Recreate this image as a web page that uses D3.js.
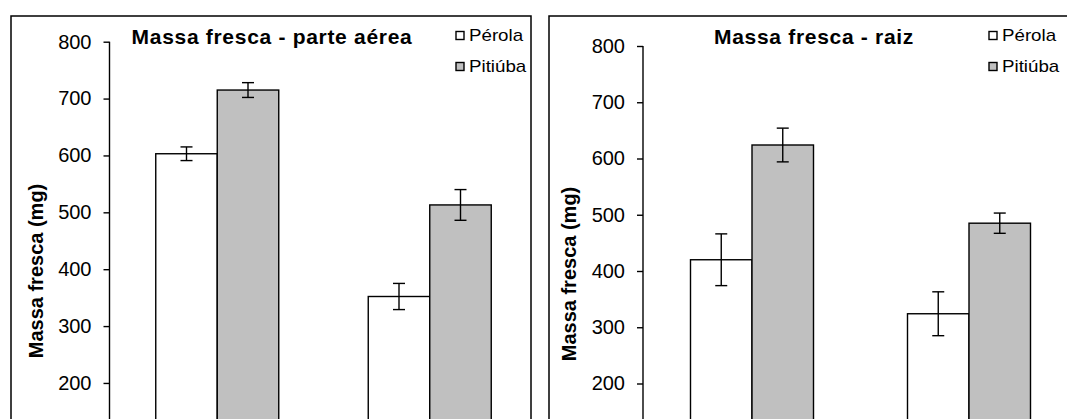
<!DOCTYPE html>
<html>
<head>
<meta charset="utf-8">
<script src="https://cdn.jsdelivr.net/npm/d3@7"></script>
<style>
  html, body { margin: 0; padding: 0; background: #fff; }
  svg { display: block; font-family: "Liberation Sans", Arial, sans-serif; }
</style>
</head>
<body>
<svg id="chart" width="1067" height="419"></svg>
<script>
// Treatment groups (one pair of bars each) and the two bean cultivars
const groups = ["1", "2"];
const cultivars = ["Pérola", "Pitiúba"];
const cultivarFill = ["#ffffff", "#c0c0c0"];
const yTicks = [200, 300, 400, 500, 600, 700, 800];

// Shoot fresh mass (mg): mean and standard error per group
const aereaPerola = [603, 352];
const aereaPerolaErr = [12, 23];
const aereaPitiuba = [715, 513];
const aereaPitiubaErr = [13, 27];

// Root fresh mass (mg)
const raizPerola = [420, 324];
const raizPerolaErr = [46, 39];
const raizPitiuba = [624, 485];
const raizPitiubaErr = [30, 18];

const svg = d3.select("#chart");
const FONT = "'Liberation Sans', Arial, sans-serif";

function panel(cfg) {
  const g = svg.append("g");

  // frame around the chart area (runs past the bottom edge)
  g.append("rect")
    .attr("x", cfg.frame[0]).attr("y", cfg.frame[1])
    .attr("width", cfg.frame[2]).attr("height", cfg.frame[3])
    .attr("fill", "none").attr("stroke", "#000").attr("stroke-width", 1.5);

  const y = d3.scaleLinear().domain([0, 800]).range(cfg.yRange);
  const x0 = d3.scaleBand().domain(groups).range(cfg.xRange);
  const x1 = d3.scaleBand().domain(cultivars).range([-cfg.barW, cfg.barW]);

  // y axis
  const axis = g.append("g")
    .attr("transform", `translate(${cfg.axisX},0)`)
    .call(d3.axisLeft(y).tickValues(yTicks).tickSize(6).tickPadding(12).tickSizeOuter(0));
  axis.select(".domain").attr("stroke", "#000").attr("stroke-width", 1.4)
    .attr("d", `M0,${y(800)}V${y(0)}`);
  axis.selectAll(".tick line").attr("stroke", "#000").attr("stroke-width", 1.4);
  axis.selectAll(".tick text")
    .attr("font-family", FONT).attr("font-size", 20).attr("fill", "#000");

  // axis title
  g.append("text")
    .attr("transform", `translate(${cfg.titleX},${cfg.titleY}) rotate(-90)`)
    .attr("text-anchor", "middle")
    .attr("font-family", FONT).attr("font-size", 20).attr("font-weight", "bold")
    .text("Massa fresca (mg)");

  // chart title
  g.append("text")
    .attr("x", cfg.headX).attr("y", 43.5)
    .attr("text-anchor", "middle")
    .attr("font-family", FONT).attr("font-size", 21).attr("font-weight", "bold")
    .attr("letter-spacing", 0.7)
    .text(cfg.head);

  // bars and error bars
  cfg.series.forEach((s, si) => {
    const name = cultivars[si];
    const sg = g.append("g");
    sg.selectAll("rect")
      .data(s.mean)
      .join("rect")
      .attr("x", (d, i) => x0(groups[i]) + x0.bandwidth() / 2 + x1(name))
      .attr("y", d => y(d))
      .attr("width", x1.bandwidth())
      .attr("height", d => y(0) - y(d))
      .attr("fill", cultivarFill[si])
      .attr("stroke", "#000").attr("stroke-width", 1.4);

    const cx = i => x0(groups[i]) + x0.bandwidth() / 2 + x1(name) + x1.bandwidth() / 2;
    const eg = sg.selectAll("g.err")
      .data(s.mean.map((m, i) => ({ m, e: s.err[i], i })))
      .join("g").attr("class", "err")
      .attr("stroke", "#000").attr("stroke-width", 1.4);
    eg.append("line")
      .attr("x1", d => cx(d.i)).attr("x2", d => cx(d.i))
      .attr("y1", d => y(d.m + d.e)).attr("y2", d => y(d.m - d.e));
    eg.append("line")
      .attr("x1", d => cx(d.i) - 6).attr("x2", d => cx(d.i) + 6)
      .attr("y1", d => y(d.m + d.e)).attr("y2", d => y(d.m + d.e));
    eg.append("line")
      .attr("x1", d => cx(d.i) - 6).attr("x2", d => cx(d.i) + 6)
      .attr("y1", d => y(d.m - d.e)).attr("y2", d => y(d.m - d.e));
  });

  // legend
  const lg = g.append("g").attr("transform", `translate(${cfg.legendX},0)`);
  cultivars.forEach((c, i) => {
    const cy = i === 0 ? 35.5 : 66.5;
    lg.append("rect")
      .attr("x", 0).attr("y", cy - 4).attr("width", 8).attr("height", 8)
      .attr("fill", cultivarFill[i]).attr("stroke", "#000").attr("stroke-width", 1.4);
    lg.append("text")
      .attr("x", 13).attr("y", cy + 5.5)
      .attr("font-family", FONT).attr("font-size", 16)
      .attr("transform-origin", `13 ${cy}`)
      .attr("transform", "scale(1.17,1)")
      .text(c);
  });
}

panel({
  frame: [11, 16, 520, 460],
  axisX: 109.5,
  yRange: [496.7, 41.7],
  xRange: [111, 536],
  barW: 61.5,
  titleX: 43, titleY: 271,
  headX: 272, head: "Massa fresca - parte aérea",
  legendX: 456,
  series: [
    { mean: aereaPerola, err: aereaPerolaErr },
    { mean: aereaPitiuba, err: aereaPitiubaErr }
  ]
});

panel({
  frame: [549, 16, 560, 460],
  axisX: 643,
  yRange: [496, 46],
  xRange: [643.5, 1077.5],
  barW: 61.5,
  titleX: 576, titleY: 274,
  headX: 814, head: "Massa fresca - raiz",
  legendX: 989,
  series: [
    { mean: raizPerola, err: raizPerolaErr },
    { mean: raizPitiuba, err: raizPitiubaErr }
  ]
});
</script>
</body>
</html>
